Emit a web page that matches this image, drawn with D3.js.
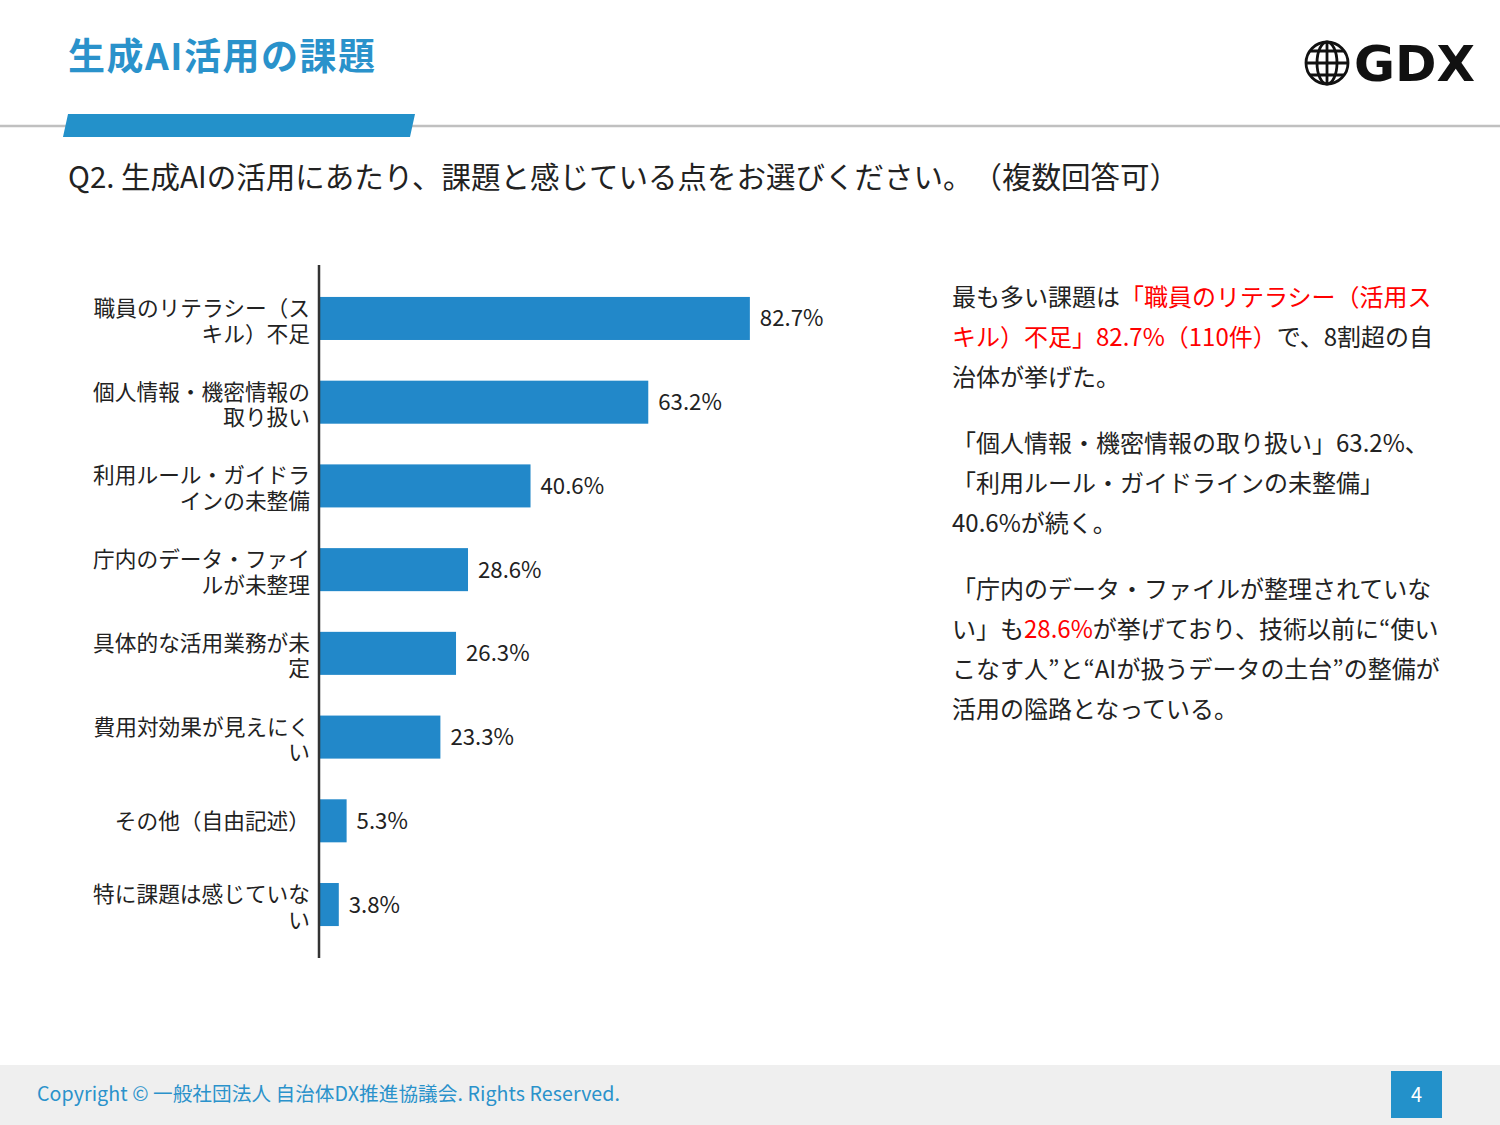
<!DOCTYPE html>
<html>
<head>
<meta charset="utf-8">
<script src="https://cdn.jsdelivr.net/npm/d3@7"></script>
<style>
  body { margin: 0; background: #fff; }
  svg { display: block; font-family: "Noto Sans CJK JP", "Noto Sans", sans-serif; text-spacing-trim: space-all; }
  svg text { text-spacing-trim: space-all; }
</style>
</head>
<body>
<div id="chart"></div>
<script>
// chart data
const categories = [
    "職員のリテラシー（スキル）不足",
    "個人情報・機密情報の取り扱い",
    "利用ルール・ガイドラインの未整備",
    "庁内のデータ・ファイルが未整理",
    "具体的な活用業務が未定",
    "費用対効果が見えにくい",
    "その他（自由記述）",
    "特に課題は感じていない"
];
const labelLines = [
    ["職員のリテラシー（ス", "キル）不足"],
    ["個人情報・機密情報の", "取り扱い"],
    ["利用ルール・ガイドラ", "インの未整備"],
    ["庁内のデータ・ファイ", "ルが未整理"],
    ["具体的な活用業務が未", "定"],
    ["費用対効果が見えにく", "い"],
    ["その他（自由記述）"],
    ["特に課題は感じていな", "い"]
];
const values = [82.7, 63.2, 40.6, 28.6, 26.3, 23.3, 5.3, 3.8];

// commentary: paragraphs -> lines -> [text, isRed] segments
const notes = [
    [
        [["最も多い課題は", false], ["「職員のリテラシー（活用ス", true]],
        [["キル）不足」82.7%（110件）", true], ["で、8割超の自", false]],
        [["治体が挙げた。", false]]
    ],
    [
        [["「個人情報・機密情報の取り扱い」63.2%、", false]],
        [["「利用ルール・ガイドラインの未整備」", false]],
        [["40.6%が続く。", false]]
    ],
    [
        [["「庁内のデータ・ファイルが整理されていな", false]],
        [["い」も", false], ["28.6%", true], ["が挙げており、技術以前に“使い", false]],
        [["こなす人”と“AIが扱うデータの土台”の整備が", false]],
        [["活用の隘路となっている。", false]]
    ]
];

const W = 1500, H = 1125;
const blue = "#2288c9";

const svg = d3.select("#chart").append("svg")
    .attr("width", W)
    .attr("height", H);

// header
svg.append("text")
    .attr("x", 68).attr("y", 70)
    .attr("font-size", 37).attr("font-weight", 700)
    .attr("letter-spacing", 1.5)
    .attr("fill", "#2a92cb")
    .text("生成AI活用の課題");

svg.append("line")
    .attr("x1", 0).attr("x2", W).attr("y1", 126).attr("y2", 126)
    .attr("stroke", "#c0c0c0").attr("stroke-width", 2.5);

svg.append("polygon")
    .attr("points", "68,114 415,114 410,137 63,137")
    .attr("fill", "#2391ca");

// logo
const logo = svg.append("g").attr("transform", "translate(1327,63)")
    .attr("fill", "none").attr("stroke", "#111").attr("stroke-width", 2.8);
logo.append("circle").attr("r", 21);
logo.append("ellipse").attr("rx", 10).attr("ry", 21);
logo.append("line").attr("y1", -21).attr("y2", 21);
[-12, 0, 12].forEach(dy => {
    const hw = Math.sqrt(21 * 21 - dy * dy);
    logo.append("line").attr("x1", -hw).attr("x2", hw).attr("y1", dy).attr("y2", dy);
});
svg.append("text")
    .attr("x", 1354).attr("y", 81)
    .attr("font-family", "'DejaVu Sans', sans-serif")
    .attr("font-size", 50).attr("font-weight", 700)
    .attr("fill", "#111")
    .text("GDX");

// question
svg.append("text")
    .attr("x", 68).attr("y", 188)
    .attr("font-size", 29.5)
    .attr("fill", "#222")
    .text("Q2. 生成AIの活用にあたり、課題と感じている点をお選びください。（複数回答可）");

// bar chart
const x0 = 319;
const x = d3.scaleLinear().domain([0, 100]).range([x0, 840]);
const y = d3.scaleBand()
    .domain(categories)
    .range([276.6, 946.4])
    .paddingInner(0.486)
    .paddingOuter(0.243);

const chart = svg.append("g");

chart.selectAll("rect.bar")
    .data(categories)
    .enter()
    .append("rect")
    .attr("class", "bar")
    .attr("x", x(0))
    .attr("y", d => y(d))
    .attr("width", (d, i) => x(values[i]) - x(0))
    .attr("height", y.bandwidth())
    .attr("fill", blue);

chart.selectAll("text.val")
    .data(categories)
    .enter()
    .append("text")
    .attr("class", "val")
    .attr("x", (d, i) => x(values[i]) + 10)
    .attr("y", d => y(d) + y.bandwidth() / 2)
    .attr("dy", "0.36em")
    .attr("font-size", 22.2)
    .attr("fill", "#222")
    .text((d, i) => values[i].toFixed(1) + "%");

// category labels (wrapped like the original, right-aligned)
const lab = chart.selectAll("text.lab")
    .data(categories)
    .enter()
    .append("text")
    .attr("class", "lab")
    .attr("text-anchor", "end")
    .attr("font-size", 21.7)
    .attr("fill", "#222");

lab.each(function (d, i) {
    const lines = labelLines[i];
    const cy = y(d) + y.bandwidth() / 2 + (lines.length > 1 ? 2.5 : 0);
    const lh = 25.5;
    lines.forEach((ln, j) => {
        d3.select(this).append("tspan")
            .attr("x", 310)
            .attr("y", cy + (j - (lines.length - 1) / 2) * lh)
            .attr("dy", "0.36em")
            .text(ln);
    });
});

// axis line
chart.append("line")
    .attr("x1", x0).attr("x2", x0)
    .attr("y1", 265).attr("y2", 958)
    .attr("stroke", "#333").attr("stroke-width", 2.5);

// commentary
const note = svg.append("g").attr("font-size", 24);
let lineNo = 0;
notes.forEach((para, p) => {
    para.forEach(segs => {
        const t = note.append("text")
            .attr("x", 952)
            .attr("y", 297 + lineNo * 40 + p * 26)
            .attr("dy", "0.36em");
        segs.forEach(s => {
            t.append("tspan")
                .attr("fill", s[1] ? "#ff0000" : "#222")
                .text(s[0]);
        });
        lineNo++;
    });
});

// footer
svg.append("rect")
    .attr("x", 0).attr("y", 1065).attr("width", W).attr("height", 60)
    .attr("fill", "#efefef");
svg.append("text")
    .attr("x", 37).attr("y", 1094).attr("dy", "0.36em")
    .attr("font-size", 19.6)
    .attr("letter-spacing", 0.08)
    .attr("fill", "#2a92cb")
    .text("Copyright © 一般社団法人 自治体DX推進協議会. Rights Reserved.");
svg.append("rect")
    .attr("x", 1391).attr("y", 1071).attr("width", 51).attr("height", 47)
    .attr("fill", "#2391ca");
svg.append("text")
    .attr("x", 1416.5).attr("y", 1094.5).attr("dy", "0.36em")
    .attr("text-anchor", "middle")
    .attr("font-size", 20)
    .attr("fill", "#fff")
    .text("4");
</script>
</body>
</html>
